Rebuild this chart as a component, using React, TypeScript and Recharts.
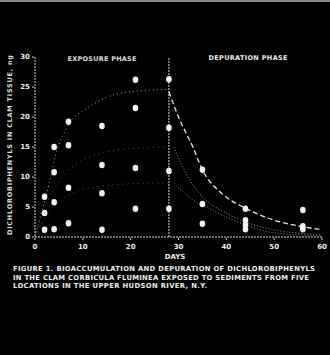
import type { CSSProperties } from "react";
import {
  ComposedChart,
  Line,
  ReferenceLine,
  Scatter,
  XAxis,
  YAxis,
} from "recharts";

// measured clam tissue values (ng), exposure then depuration
const exposurePoints = [
  { day: 2, value: 6.7 },
  { day: 2, value: 4 },
  { day: 2, value: 1.2 },
  { day: 4, value: 15 },
  { day: 4, value: 10.8 },
  { day: 4, value: 5.8 },
  { day: 4, value: 1.3 },
  { day: 7, value: 19.2 },
  { day: 7, value: 15.3 },
  { day: 7, value: 8.2 },
  { day: 7, value: 2.3 },
  { day: 14, value: 18.5 },
  { day: 14, value: 12 },
  { day: 14, value: 7.3 },
  { day: 14, value: 1.2 },
  { day: 21, value: 26.2 },
  { day: 21, value: 21.5 },
  { day: 21, value: 11.5 },
  { day: 21, value: 4.7 },
];

const depurationPoints = [
  { day: 28, value: 26.3 },
  { day: 28, value: 18.2 },
  { day: 28, value: 11 },
  { day: 28, value: 4.7 },
  { day: 35, value: 11.2 },
  { day: 35, value: 5.5 },
  { day: 35, value: 2.2 },
  { day: 44, value: 4.7 },
  { day: 44, value: 2.8 },
  { day: 44, value: 2 },
  { day: 44, value: 1.3 },
  { day: 56, value: 4.5 },
  { day: 56, value: 1.8 },
  { day: 56, value: 1.3 },
];

// fitted curves
const uptakeHigh = [
  { day: 0, value: 0 },
  { day: 1.5, value: 4.5 },
  { day: 3, value: 9 },
  { day: 4.2, value: 13.3 },
  { day: 7.3, value: 19 },
  { day: 11, value: 21.5 },
  { day: 15, value: 23.3 },
  { day: 21, value: 24.3 },
  { day: 28, value: 24.6 },
];
const uptakeMid = [
  { day: 0, value: 0 },
  { day: 2, value: 5 },
  { day: 4, value: 8 },
  { day: 7, value: 11 },
  { day: 14, value: 14 },
  { day: 21, value: 14.8 },
  { day: 28, value: 15 },
];
const uptakeLow = [
  { day: 0, value: 0 },
  { day: 2, value: 3 },
  { day: 4, value: 5 },
  { day: 7, value: 7 },
  { day: 14, value: 8.5 },
  { day: 21, value: 8.9 },
  { day: 28, value: 9 },
];
const lossHigh = [
  { day: 28, value: 24.2 },
  { day: 30, value: 20 },
  { day: 33, value: 15 },
  { day: 35, value: 11.2 },
  { day: 39, value: 7.3 },
  { day: 44, value: 4.8 },
  { day: 50, value: 2.8 },
  { day: 56, value: 1.7 },
  { day: 60, value: 1.2 },
];
const lossMid = [
  { day: 29, value: 15 },
  { day: 32, value: 10 },
  { day: 35, value: 6.7 },
  { day: 40, value: 4 },
  { day: 44, value: 2.5 },
  { day: 50, value: 1.2 },
  { day: 60, value: 0.4 },
];
const lossLow = [
  { day: 29, value: 9 },
  { day: 33, value: 6.2 },
  { day: 37, value: 4.5 },
  { day: 44, value: 2 },
  { day: 50, value: 0.7 },
  { day: 60, value: 0.2 },
];

const xTicks = [0, 10, 20, 30, 40, 50, 60];
const yTicks = [0, 5, 10, 15, 20, 25, 30];

const captionLines = [
  "FIGURE 1.  BIOACCUMULATION AND DEPURATION OF DICHLOROBIPHENYLS",
  "IN THE CLAM CORBICULA FLUMINEA EXPOSED TO SEDIMENTS FROM FIVE",
  "LOCATIONS IN THE UPPER HUDSON RIVER, N.Y.",
];

const FONT = "'DejaVu Sans', sans-serif";

function Blob(props: { cx?: number; cy?: number }) {
  const { cx = 0, cy = 0 } = props;
  return <ellipse cx={cx} cy={cy} rx={2.8} ry={3.2} fill="#f2f2f2" />;
}

export default function App() {
  const tick = { fill: "#eee", fontSize: 7, fontWeight: 700, fontFamily: FONT };
  return (
    <div style={styles.page}>
      <ComposedChart
        width={330}
        height={355}
        margin={{ top: 57, right: 8, bottom: 98, left: 15 }}
      >
        <XAxis
          dataKey="day"
          type="number"
          domain={[0, 60]}
          ticks={xTicks}
          allowDuplicatedCategory={false}
          stroke="#ddd"
          strokeDasharray="2 1"
          tick={tick}
          tickSize={3}
          tickMargin={4}
          height={20}
        />
        <YAxis
          dataKey="value"
          type="number"
          domain={[0, 30]}
          ticks={yTicks}
          stroke="#ddd"
          strokeDasharray="2 1"
          tick={tick}
          tickSize={3}
          width={20}
        />
        <ReferenceLine
          x={28}
          stroke="#ddd"
          strokeDasharray="2 1"
          segment={[
            { x: 28, y: 0 },
            { x: 28, y: 30.5 },
          ]}
        />
        <Line data={uptakeHigh} dataKey="value" type="monotone" stroke="#aaa" strokeWidth={1} strokeDasharray="1 3" dot={false} isAnimationActive={false} />
        <Line data={uptakeMid} dataKey="value" type="monotone" stroke="#555" strokeWidth={1} strokeDasharray="1 4" dot={false} isAnimationActive={false} />
        <Line data={uptakeLow} dataKey="value" type="monotone" stroke="#555" strokeWidth={1} strokeDasharray="1 4" dot={false} isAnimationActive={false} />
        <Line data={lossHigh} dataKey="value" type="monotone" stroke="#e6e6e6" strokeWidth={1.3} strokeDasharray="5 3" dot={false} isAnimationActive={false} />
        <Line data={lossMid} dataKey="value" type="monotone" stroke="#999" strokeWidth={1} strokeDasharray="1 2" dot={false} isAnimationActive={false} />
        <Line data={lossLow} dataKey="value" type="monotone" stroke="#888" strokeWidth={1} strokeDasharray="1 2" dot={false} isAnimationActive={false} />
        <Scatter data={exposurePoints} dataKey="value" shape={<Blob />} isAnimationActive={false} />
        <Scatter data={depurationPoints} dataKey="value" shape={<Blob />} isAnimationActive={false} />
      </ComposedChart>
      <svg width={330} height={355} style={styles.overlay}>
        <line x1={0} y1={1} x2={330} y2={1} stroke="#888" strokeWidth={2} />
        <text x={102} y={61} textAnchor="middle" fill="#ddd" fontSize={6.5} fontWeight={700} fontFamily={FONT} textLength={69}>
          EXPOSURE PHASE
        </text>
        <text x={248} y={60} textAnchor="middle" fill="#eee" fontSize={6.5} fontWeight={700} fontFamily={FONT} textLength={79}>
          DEPURATION PHASE
        </text>
        <text
          x={0}
          y={0}
          transform="translate(12,145) rotate(-90)"
          textAnchor="middle"
          fill="#ddd"
          fontSize={6.5}
          fontWeight={700}
          fontFamily={FONT}
          textLength={180}
        >
          DICHLOROBIPHENYLS IN CLAM TISSUE, ng
        </text>
        <text x={175} y={259} textAnchor="middle" fill="#eee" fontSize={7} fontWeight={700} fontFamily={FONT}>
          DAYS
        </text>
        {captionLines.map((line, i) => (
          <text
            key={line}
            x={13}
            y={271 + i * 8.5}
            fill="#eee"
            fontSize={6.8}
            fontWeight={700}
            fontFamily={FONT}
            textLength={i === 0 ? 302 : i === 1 ? 296 : 194}
          >
            {line}
          </text>
        ))}
      </svg>
    </div>
  );
}

const styles: Record<string, CSSProperties> = {
  page: {
    position: "absolute",
    top: 0,
    left: 0,
    width: 330,
    height: 355,
    background: "#000",
    overflow: "hidden",
  },
  overlay: {
    position: "absolute",
    top: 0,
    left: 0,
    pointerEvents: "none",
  },
};
